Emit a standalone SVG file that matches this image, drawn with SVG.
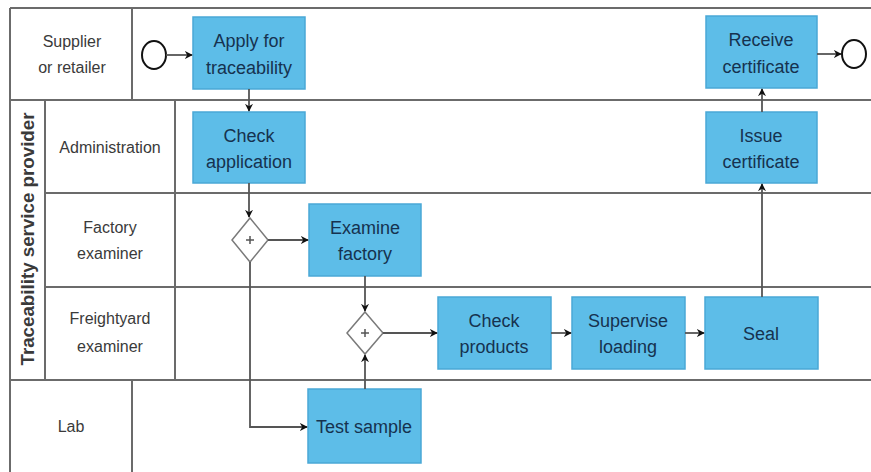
<svg xmlns="http://www.w3.org/2000/svg" width="871" height="472" viewBox="0 0 871 472">
<style>
.lane{stroke:#6b6b6b;stroke-width:2;fill:none}
.task rect{fill:#5dbde8;stroke:#4aa8d6;stroke-width:1.5}
.task text{font-family:"Liberation Sans",Arial,sans-serif;font-size:18px;fill:#16324f;text-anchor:middle}
.lbl{font-family:"Liberation Sans",Arial,sans-serif;font-size:16px;fill:#3a3a3a;text-anchor:middle}
.gw polygon{fill:#fff;stroke:#7a7a7a;stroke-width:1.5}
.gw path{stroke:#555;stroke-width:1.5}
.ev{fill:#fff;stroke:#111;stroke-width:2}
.conn path{fill:none;stroke:#555;stroke-width:1.8;marker-end:url(#ah)}
</style>
<defs>
<marker id="ah" viewBox="0 0 10 10" refX="9" refY="5" markerWidth="8" markerHeight="8" markerUnits="userSpaceOnUse" orient="auto">
<path d="M0,0 L10,5 L0,10 L3,5 z" fill="#111"/>
</marker>
</defs>
<rect width="871" height="472" fill="#fff"/>
<g id="lanes">
<path class="lane" d="M10,8 H871 M10,8 V472 M10,100 H871 M45,193 H871 M45,287 H871 M10,380 H871 M45,100 V380 M132,8 V100 M132,380 V472 M175,100 V380"/>
<text class="lbl" x="72" y="47">Supplier</text>
<text class="lbl" x="72" y="73">or retailer</text>
<text class="lbl" x="110" y="153">Administration</text>
<text class="lbl" x="110" y="233">Factory</text>
<text class="lbl" x="110" y="259">examiner</text>
<text class="lbl" x="110" y="324">Freightyard</text>
<text class="lbl" x="110" y="352">examiner</text>
<text class="lbl" x="71" y="432">Lab</text>
<text class="lbl" x="0" y="0" transform="translate(34,239) rotate(-90)" style="font-size:18px;font-weight:bold" textLength="253" lengthAdjust="spacingAndGlyphs">Traceability service provider</text>
</g>
<g id="start"><ellipse class="ev" cx="154" cy="55" rx="12" ry="14"/></g>
<g id="end"><ellipse class="ev" cx="854" cy="54" rx="12" ry="14"/></g>
<g id="apply" class="task"><rect x="193" y="17" width="112" height="72"/><text x="249" y="47">Apply for</text><text x="249" y="74">traceability</text></g>
<g id="checkapp" class="task"><rect x="193" y="112" width="112" height="71"/><text x="249" y="142">Check</text><text x="249" y="168">application</text></g>
<g id="examine" class="task"><rect x="309" y="204" width="112" height="72"/><text x="365" y="234">Examine</text><text x="365" y="260">factory</text></g>
<g id="testsample" class="task"><rect x="308" y="389" width="113" height="74"/><text x="364" y="433">Test sample</text></g>
<g id="checkprod" class="task"><rect x="438" y="297" width="113" height="72"/><text x="494" y="327">Check</text><text x="494" y="353">products</text></g>
<g id="supervise" class="task"><rect x="572" y="297" width="113" height="72"/><text x="628" y="327">Supervise</text><text x="628" y="353">loading</text></g>
<g id="seal" class="task"><rect x="705" y="297" width="113" height="72"/><text x="761" y="340">Seal</text></g>
<g id="issue" class="task"><rect x="706" y="112" width="111" height="71"/><text x="761" y="142">Issue</text><text x="761" y="168">certificate</text></g>
<g id="receive" class="task"><rect x="706" y="16" width="111" height="72"/><text x="761" y="46">Receive</text><text x="761" y="73">certificate</text></g>
<g id="gw1" class="gw"><polygon points="250,218 268,240 250,262 232,240"/><path d="M246,240 H254 M250,236 V244"/></g>
<g id="gw2" class="gw"><polygon points="365,312 383,333 365,354 347,333"/><path d="M361,333 H369 M365,329 V337"/></g>
<g id="connectors" class="conn">
<path d="M166,55 H192"/>
<path d="M249,89 V111"/>
<path d="M249,183 V217"/>
<path d="M268,240 H308"/>
<path d="M250,262 V427 H307"/>
<path d="M365,276 V311"/>
<path d="M365,389 V355"/>
<path d="M383,333 H437"/>
<path d="M551,333 H571"/>
<path d="M685,333 H704"/>
<path d="M762,297 V184"/>
<path d="M762,112 V89"/>
<path d="M817,54 H841"/>
</g>
</svg>
